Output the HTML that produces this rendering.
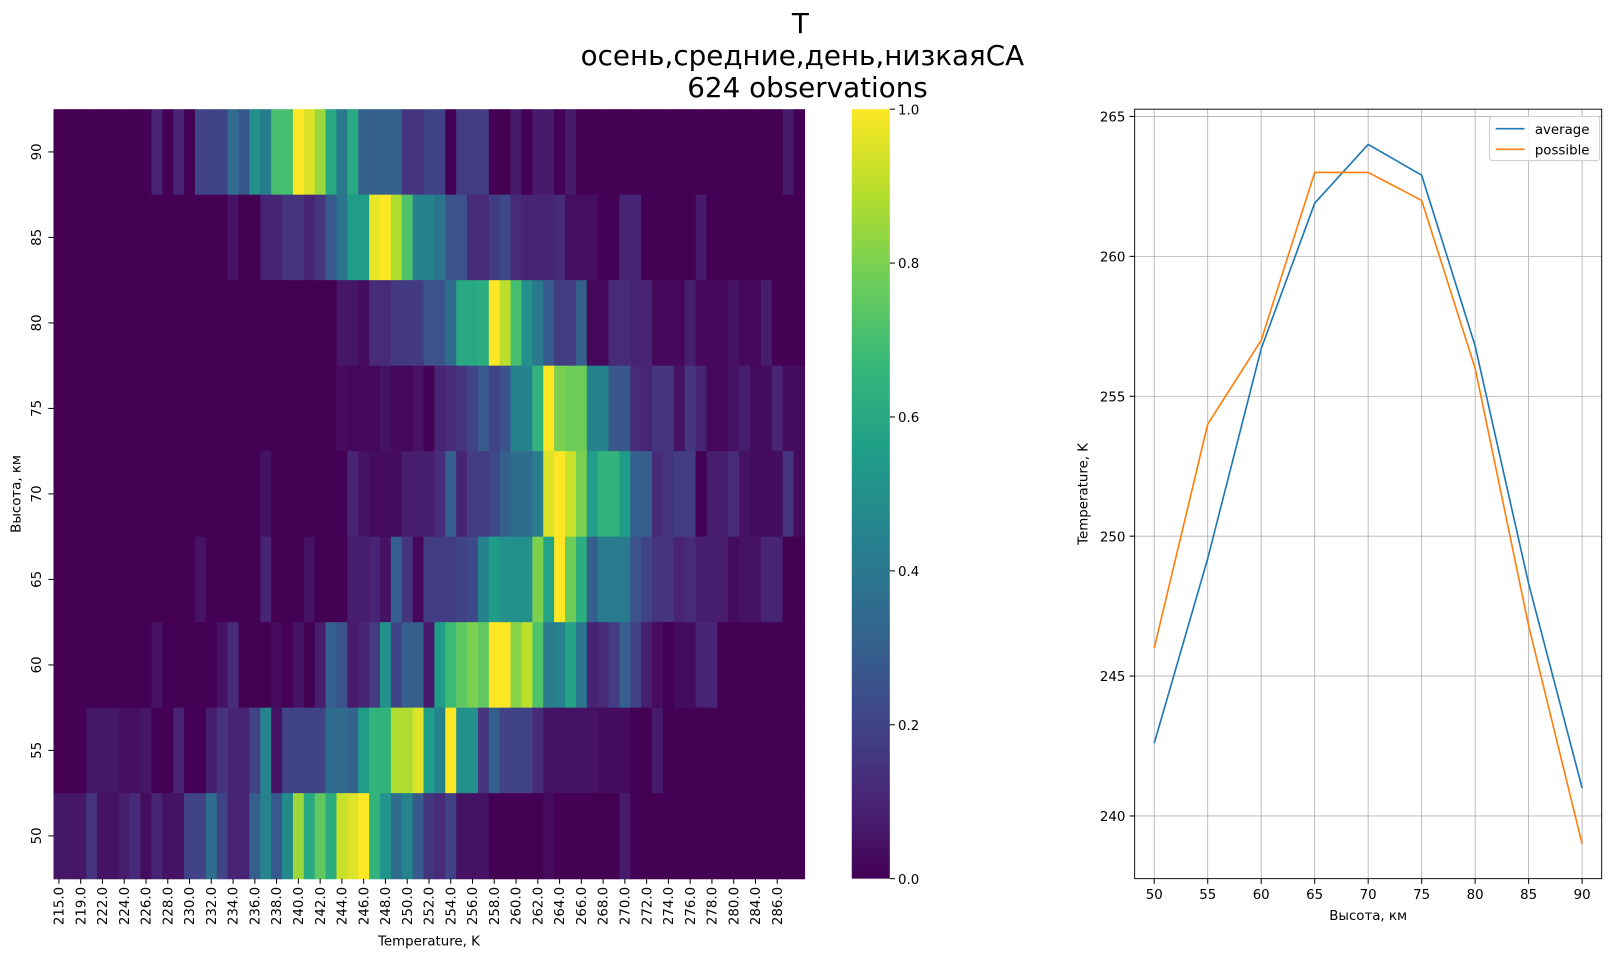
<!DOCTYPE html>
<html><head><meta charset="utf-8"><style>
html,body{margin:0;padding:0;background:#fff}
svg text{font-family:"DejaVu Sans","Liberation Sans",sans-serif;fill:#000}
</style></head><body>
<svg id="root" xmlns="http://www.w3.org/2000/svg" width="1613" height="958" viewBox="0 0 1568 931">
<g>
<text x="778" y="32" font-size="27" text-anchor="middle">T</text>
<text x="780" y="63" font-size="27" text-anchor="middle">осень,средние,день,низкаяСА</text>
<text x="785" y="94" font-size="27" text-anchor="middle">624 observations</text>
</g>
<g id="heat"></g>
<g id="cbar"></g>
<g id="line"></g>
</svg>
<script>
const NS="http://www.w3.org/2000/svg";
const rowLabels=[90,85,80,75,70,65,60,55,50];
const xTickLabels=["215.0","219.0","222.0","224.0","226.0","228.0","230.0","232.0","234.0","236.0","238.0","240.0","242.0","244.0","246.0","248.0","250.0","252.0","254.0","256.0","258.0","260.0","262.0","264.0","266.0","268.0","270.0","272.0","274.0","276.0","278.0","280.0","284.0","286.0"];
function R(list){const a=new Array(69).fill(0);list.forEach(s=>{for(let c=s[0];c<=s[1];c++)a[c]=s[2];});return a;}
const row90=R([[9,9,.1],[11,11,.1],[13,15,.2],[16,16,.35],[17,17,.27],[18,18,.5],[19,19,.42],[20,21,.7],[22,22,1],[23,23,.95],[24,24,.85],[25,25,.6],[26,26,.4],[27,27,.6],[28,31,.3],[32,33,.15],[34,35,.2],[37,39,.18],[42,42,.07],[44,45,.07],[47,47,.07],[67,67,.07]]);
const row85=R([[16,16,.05],[19,20,.1],[21,22,.15],[23,23,.1],[24,24,.15],[25,25,.28],[26,26,.38],[27,28,.55],[29,29,.97],[30,30,1],[31,31,.88],[32,32,.72],[33,34,.45],[35,35,.38],[36,37,.25],[38,39,.12],[40,40,.18],[41,41,.22],[42,42,.12],[43,45,.1],[46,46,.12],[47,49,.04],[52,53,.1],[59,59,.07]]);
const row80=R([[26,27,.06],[28,28,.03],[29,30,.12],[31,33,.17],[34,35,.25],[36,36,.35],[37,38,.6],[39,39,.62],[40,40,1],[41,41,.9],[42,42,.7],[43,43,.5],[44,44,.4],[45,45,.28],[46,47,.18],[48,48,.3],[49,50,.02],[51,52,.12],[53,54,.1],[55,57,.02],[58,58,.08],[59,61,.02],[62,62,.05],[63,64,.02],[65,65,.08]]);
const row75=R([[26,26,.03],[27,29,.02],[30,30,.05],[31,32,.02],[33,33,.05],[35,35,.1],[36,36,.12],[37,37,.15],[38,38,.2],[39,39,.28],[40,40,.2],[41,41,.25],[42,43,.45],[44,44,.65],[45,45,1],[46,46,.8],[47,48,.78],[49,50,.45],[51,52,.27],[53,53,.12],[54,54,.1],[55,56,.15],[57,57,.05],[58,58,.15],[59,59,.1],[60,61,.02],[62,62,.05],[63,63,.08],[64,65,.03],[66,66,.1],[67,68,.03]]);
const row70=R([[19,19,.05],[27,27,.1],[28,28,.05],[29,31,.03],[32,34,.08],[35,35,.13],[36,36,.3],[37,37,.1],[38,39,.18],[40,40,.22],[41,41,.3],[42,43,.35],[44,44,.42],[45,45,.95],[46,46,1],[47,47,.92],[48,48,.8],[49,49,.55],[50,51,.65],[52,52,.55],[53,54,.3],[55,55,.12],[56,56,.15],[57,58,.18],[60,61,.08],[62,62,.12],[63,63,.05],[64,66,.03],[67,67,.15],[68,68,.03]]);
const row65=R([[13,13,.05],[19,19,.1],[23,23,.05],[27,28,.08],[29,29,.1],[30,30,.05],[31,31,.3],[32,32,.15],[33,33,.02],[34,36,.18],[37,37,.2],[38,38,.22],[39,39,.45],[40,40,.55],[41,43,.5],[44,44,.8],[45,45,.58],[46,46,1],[47,47,.78],[48,48,.62],[49,49,.3],[50,52,.42],[53,53,.25],[54,54,.2],[55,56,.15],[57,57,.1],[58,58,.12],[59,61,.08],[62,62,.03],[63,64,.05],[65,66,.1]]);
const row60=R([[9,9,.05],[15,15,.05],[16,16,.12],[20,20,.03],[22,22,.05],[24,24,.08],[25,25,.3],[26,26,.25],[27,27,.07],[28,28,.1],[29,29,.17],[30,30,.5],[31,31,.2],[32,33,.3],[34,34,.07],[35,35,.55],[36,36,.68],[37,37,.75],[38,38,.8],[39,39,.75],[40,41,1],[42,42,.82],[43,43,.9],[44,44,.72],[45,45,.42],[46,46,.45],[47,47,.58],[48,48,.4],[49,49,.1],[50,50,.12],[51,51,.18],[52,52,.3],[53,53,.2],[54,54,.08],[55,55,.03],[57,58,.03],[59,60,.1]]);
const row55=R([[3,5,.06],[6,7,.04],[8,8,.06],[11,11,.1],[14,14,.08],[15,15,.15],[16,17,.1],[18,18,.2],[19,19,.45],[20,20,.05],[21,24,.2],[25,26,.35],[27,27,.32],[28,28,.55],[29,30,.65],[31,32,.88],[33,33,.95],[34,34,.55],[35,35,.45],[36,36,1],[37,38,.5],[39,39,.15],[40,40,.3],[41,43,.2],[44,44,.12],[45,49,.05],[50,52,.03],[55,55,.07]]);
const row50=R([[0,2,.06],[3,3,.15],[4,5,.05],[6,6,.08],[7,7,.12],[8,8,.03],[9,9,.1],[10,11,.05],[12,13,.2],[14,14,.35],[15,15,.2],[16,17,.1],[18,18,.3],[19,19,.45],[20,20,.28],[21,21,.48],[22,22,.85],[23,23,.6],[24,24,.75],[25,25,.62],[26,26,.92],[27,27,.95],[28,28,1],[29,29,.65],[30,30,.52],[31,31,.35],[32,32,.45],[33,33,.28],[34,34,.15],[35,35,.12],[36,36,.2],[37,39,.05],[45,45,.03],[52,52,.07]]);
const heatRows=[row90,row85,row80,row75,row70,row65,row60,row55,row50];
const heights=[50,55,60,65,70,75,80,85,90];
const avgT=[242.6,249.2,256.7,261.9,264.0,262.9,256.8,248.3,241.0];
const possT=[246,254,257,263,263,262,256,246.8,239];
const yTicks=[240,245,250,255,260,265];

const VIR=[[68,1,84],[72,40,120],[62,74,137],[49,104,142],[38,130,142],[31,158,137],[53,183,121],[109,205,89],[180,222,44],[253,231,37]];
function vir(v){v=Math.max(0,Math.min(1,v));const p=v*9,i=Math.min(8,Math.floor(p)),f=p-i;const a=VIR[i],b=VIR[i+1];return `rgb(${a.map((x,k)=>Math.round(x+(b[k]-x)*f)).join(',')})`;}
function mk(tag,attrs,parent,txt){const e=document.createElementNS(NS,tag);for(const k in attrs)e.setAttribute(k,attrs[k]);if(txt!==undefined)e.textContent=txt;parent.appendChild(e);return e;}

// heatmap
const H=document.getElementById('heat');
const HX0=52,HX1=782,HY0=106,HY1=854,NC=69;
const cw=(HX1-HX0)/NC, rh=(HY1-HY0)/rowLabels.length;
const hx=c=>HX0+c*cw, hy=r=>HY0+r*rh;
heatRows.forEach((row,r)=>{row.forEach((v,c)=>{
 const e=mk('rect',{x:hx(c),y:hy(r),width:cw+0.6,height:rh+0.6,fill:vir(v)},H);
 
 
});});
rowLabels.forEach((lab,r)=>{const y=hy(r)+rh/2;
 mk('line',{x1:HX0-5,x2:HX0,y1:y,y2:y,stroke:'#000'},H);
 const t=mk('text',{x:0,y:0,'font-size':13,'text-anchor':'middle',transform:`translate(40,${y}) rotate(-90)`},H,lab);
 
 
});
xTickLabels.forEach((lab,i)=>{const x=hx(2*i)+cw/2;
 mk('line',{x1:x,x2:x,y1:HY1,y2:HY1+5,stroke:'#000'},H);
 const t=mk('text',{x:0,y:0,'font-size':13,'text-anchor':'end',transform:`translate(${x+4.5},${HY1+8}) rotate(-90)`},H,lab);
 
 
});
let t1=mk('text',{x:0,y:0,'font-size':13,'text-anchor':'middle',transform:`translate(20,480) rotate(-90)`},H,'Высота, км');

let t2=mk('text',{x:417,y:919,'font-size':13,'text-anchor':'middle'},H,'Temperature, K');


// colorbar
const C=document.getElementById('cbar');
const CX0=828,CX1=865;
const defs=mk('defs',{},C);const g=mk('linearGradient',{id:'vg',x1:0,y1:1,x2:0,y2:0},defs);
VIR.forEach((c,i)=>mk('stop',{offset:i/9,'stop-color':`rgb(${c.join(',')})`},g));
mk('rect',{x:CX0,y:HY0,width:CX1-CX0,height:HY1-HY0,fill:'url(#vg)'},C);
[0,0.2,0.4,0.6,0.8,1.0].forEach(v=>{const y=HY1-v*(HY1-HY0);
 mk('line',{x1:CX1,x2:CX1+5,y1:y,y2:y,stroke:'#000'},C);
 const t=mk('text',{x:CX1+8,y:y+5,'font-size':13},C,v.toFixed(1));
 
 
});

// line chart
const L=document.getElementById('line');
const LX0=1103,LX1=1557,LY0=106,LY1=854;
const xmin=48.17,xmax=91.83,ymin=237.76,ymax=265.26;
const lx=v=>LX0+(v-xmin)/(xmax-xmin)*(LX1-LX0);
const ly=v=>LY1-(v-ymin)/(ymax-ymin)*(LY1-LY0);
heights.forEach(h=>{const x=lx(h);
 mk('line',{x1:x,x2:x,y1:LY0,y2:LY1,stroke:'#b0b0b0','stroke-width':0.8},L);
 mk('line',{x1:x,x2:x,y1:LY1,y2:LY1+5,stroke:'#000'},L);
 const t=mk('text',{x:x,y:LY1+20,'font-size':13,'text-anchor':'middle'},L,h);
 
 
});
yTicks.forEach(v=>{const y=ly(v);
 mk('line',{x1:LX0,x2:LX1,y1:y,y2:y,stroke:'#b0b0b0','stroke-width':0.8},L);
 mk('line',{x1:LX0-5,x2:LX0,y1:y,y2:y,stroke:'#000'},L);
 const t=mk('text',{x:LX0-9,y:y+5,'font-size':13,'text-anchor':'end'},L,v);
 
 
});
const pa=mk('polyline',{points:heights.map((h,i)=>lx(h)+','+ly(avgT[i])).join(' '),fill:'none',stroke:'#1f77b4','stroke-width':1.6},L);

const pp=mk('polyline',{points:heights.map((h,i)=>lx(h)+','+ly(possT[i])).join(' '),fill:'none',stroke:'#ff7f0e','stroke-width':1.6},L);

mk('rect',{x:LX0,y:LY0,width:LX1-LX0,height:LY1-LY0,fill:'none',stroke:'#000','stroke-width':0.9},L);
let t3=mk('text',{x:1330,y:894,'font-size':13,'text-anchor':'middle'},L,'Высота, км');

let t4=mk('text',{x:0,y:0,'font-size':13,'text-anchor':'middle',transform:`translate(1057,480) rotate(-90)`},L,'Temperature, K');

const lg=mk('g',{},L);

mk('rect',{x:1448,y:113,width:107,height:43,rx:3,fill:'#fff','fill-opacity':0.85,stroke:'#ccc'},lg);
mk('line',{x1:1454,x2:1482,y1:125,y2:125,stroke:'#1f77b4','stroke-width':1.6},lg);
mk('text',{x:1492,y:130,'font-size':13},lg,'average');
mk('line',{x1:1454,x2:1482,y1:145,y2:145,stroke:'#ff7f0e','stroke-width':1.6},lg);
mk('text',{x:1492,y:150,'font-size':13},lg,'possible');
</script>
</body></html>
